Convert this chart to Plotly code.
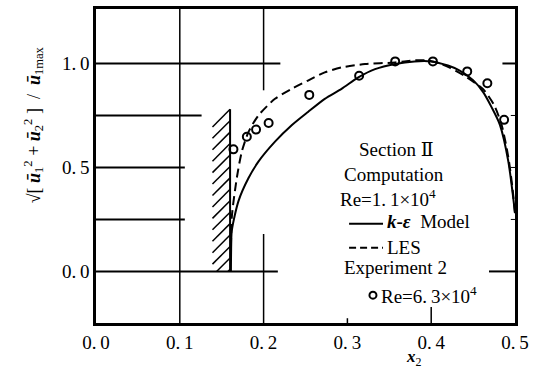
import plotly.graph_objects as go

# ---- data ----
ke_x = [0.161, 0.1612, 0.162, 0.170, 0.182, 0.194, 0.2136, 0.2335, 0.253, 0.273, 0.293, 0.313, 0.333, 0.357,
        0.38, 0.40, 0.42, 0.434, 0.45, 0.462, 0.472, 0.482, 0.492, 0.498, 0.5]
ke_y = [0.0, 0.09, 0.195, 0.338, 0.449, 0.529, 0.624, 0.703, 0.767, 0.83, 0.878, 0.933, 0.973, 0.998,
        1.01, 1.01, 0.99, 0.966, 0.92, 0.862, 0.79, 0.705, 0.53, 0.35, 0.28]

les_x = [0.161, 0.162, 0.168, 0.174, 0.182, 0.194, 0.2136, 0.2335, 0.253, 0.273, 0.293, 0.321, 0.357, 0.38,
         0.395, 0.41, 0.422, 0.44, 0.462, 0.475, 0.484, 0.492, 0.497, 0.5]
les_y = [0.05, 0.259, 0.449, 0.576, 0.671, 0.751, 0.83, 0.878, 0.918, 0.957, 0.981, 0.997, 1.005, 1.015,
         1.015, 1.0, 0.98, 0.94, 0.876, 0.8, 0.705, 0.55, 0.4, 0.28]

exp_x = [0.164, 0.18, 0.191, 0.206, 0.2545, 0.314, 0.357, 0.402, 0.443, 0.467, 0.487]
exp_y = [0.587, 0.648, 0.682, 0.714, 0.849, 0.941, 1.01, 1.01, 0.962, 0.905, 0.729]

x_ticks = [0.0, 0.1, 0.2, 0.3, 0.4, 0.5]
x_tick_labels = ["0.\u20090", "0.\u20091", "0.\u20092", "0.\u20093", "0.\u20094", "0.\u20095"]
y_ticks = [0.0, 0.5, 1.0]
y_tick_labels = ["0.\u20090", "0.\u20095", "1.\u20090"]

FONT = "Liberation Serif, Times New Roman, DejaVu Serif, serif"
X_RANGE = [0.0, 0.5]
Y_RANGE = [-0.248, 1.262]

fig = go.Figure()

fig.add_trace(go.Scatter(x=ke_x, y=ke_y, mode="lines",
                         line=dict(color="black", width=2, shape="spline", smoothing=0.7),
                         showlegend=False))
fig.add_trace(go.Scatter(x=les_x, y=les_y, mode="lines",
                         line=dict(color="black", width=2, dash="9px,5px", shape="spline", smoothing=0.7),
                         showlegend=False))
fig.add_trace(go.Scatter(x=exp_x, y=exp_y, mode="markers",
                         marker=dict(symbol="circle-open", size=8, color="black", line=dict(width=2)),
                         showlegend=False))

shapes = []
def seg(x0, y0, x1, y1, w=2, dash=None):
    d = dict(type="line", xref="x", yref="y", x0=x0, y0=y0, x1=x1, y1=y1,
             line=dict(color="black", width=w))
    if dash:
        d["line"]["dash"] = dash
    shapes.append(d)

# partial grid / ticks as on the original paper
for yv, xe in [(1.0, 0.22), (0.75, 0.126), (0.5, 0.106), (0.25, 0.106), (0.0, 0.217)]:
    seg(0.0, yv, xe, yv)
seg(0.485, 1.0, 0.5, 1.0)
seg(0.469, 0.0, 0.5, 0.0)
for yv in [0.25, 0.5, 0.75]:
    seg(0.495, yv, 0.5, yv, w=1)
seg(0.1, Y_RANGE[0], 0.1, Y_RANGE[1], w=1.5)
seg(0.2, Y_RANGE[1], 0.2, 0.871, w=1.5)
seg(0.2, 0.18, 0.2, Y_RANGE[0], w=1.5)
seg(0.4, Y_RANGE[0], 0.4, -0.171, w=1.5)
seg(0.3, Y_RANGE[0], 0.3, -0.225, w=1.5)

# wall with hatching
wall_x, wall_top = 0.16, 0.78
seg(wall_x, 0.0, wall_x, wall_top, w=2)
hx, hy, step = 0.021, 0.085, 0.055
k = 0
while True:
    yt = wall_top - k * step
    if yt <= 0:
        break
    yb = yt - hy
    xb = wall_x - hx
    if yb < 0:
        xb = wall_x - hx * (yt / hy)
        yb = 0.0
    seg(wall_x, yt, xb, yb, w=1.5)
    k += 1

# legend samples
seg(0.302, 0.229, 0.3425, 0.229, w=2)
seg(0.302, 0.114, 0.3425, 0.114, w=2, dash="7px,4px")
fig.add_trace(go.Scatter(x=[0.3305], y=[-0.114], mode="markers",
                         marker=dict(symbol="circle-open", size=7, color="black", line=dict(width=2)),
                         showlegend=False))

ann = []
def txt(x, y, s, size=19, anchor="left"):
    ann.append(dict(x=x, y=y, xref="x", yref="y", text=s, showarrow=False, xanchor=anchor,
                    yanchor="middle", font=dict(family=FONT, size=size, color="black")))

T = "\u2009"
txt(0.3115, 0.586, "Section Ⅱ")
txt(0.2935, 0.467, "Computation")
txt(0.289, 0.352, f"Re=1.{T}1×10<sup>4</sup>")
txt(0.345, 0.238, "<b><i>k</i>-<i>ε</i></b>  Model")
txt(0.345, 0.114, "LES")
txt(0.2935, 0.019, "Experiment 2")
txt(0.338, -0.114, f"Re=6.{T}3×10<sup>4</sup>")

# axis titles
ann.append(dict(x=0.38, y=-0.07, xref="x", yref="paper", text="<b><i>x</i></b><sub>2</sub>", showarrow=False,
                xanchor="center", yanchor="top", font=dict(family=FONT, size=17, color="black")))
ann.append(dict(x=-0.15, y=0.63, xref="paper", yref="paper", textangle=-90,
                text="√[ <b><i>ū</i></b><sub>1</sub><sup>2</sup> + <b><i>ū</i></b><sub>2</sub><sup>2</sup> ]  /  <b><i>ū</i></b><sub>1max</sub>",
                showarrow=False, xanchor="center", yanchor="middle",
                font=dict(family=FONT, size=18, color="black")))

fig.update_layout(
    width=539, height=373, autosize=False,
    margin=dict(l=96, r=24, t=6, b=50),
    paper_bgcolor="white", plot_bgcolor="white",
    shapes=shapes, annotations=ann, showlegend=False,
    font=dict(family=FONT, size=19, color="black"),
)
fig.update_xaxes(range=X_RANGE, tickvals=x_ticks, ticktext=x_tick_labels, showgrid=False, zeroline=False,
                 showline=True, linecolor="black", linewidth=2.5, mirror=True, ticks="", ticklen=0,
                 tickfont=dict(family=FONT, size=19))
fig.update_yaxes(range=Y_RANGE, tickvals=y_ticks, ticktext=y_tick_labels, showgrid=False, zeroline=False,
                 showline=True, linecolor="black", linewidth=2.5, mirror=True, ticks="", ticklen=0,
                 tickfont=dict(family=FONT, size=19))

fig.write_html("out.html")
